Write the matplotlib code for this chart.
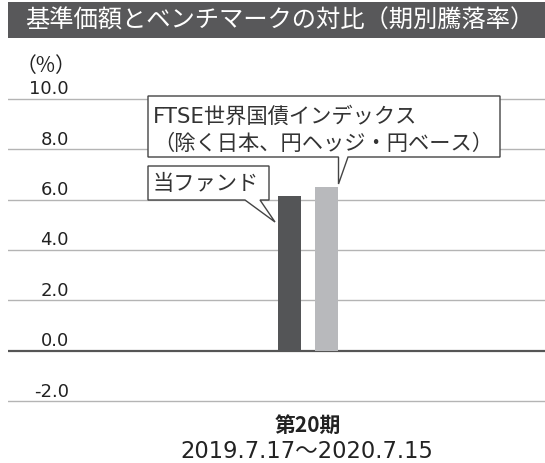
import matplotlib
matplotlib.use("Agg")
import matplotlib.pyplot as plt
from matplotlib.patches import Rectangle, Polygon

plt.rcParams['font.family'] = ['Noto Sans CJK JP', 'DejaVu Sans']
LATIN_FIRST = ['DejaVu Sans', 'Noto Sans CJK JP']

# データ
title = "基準価額とベンチマークの対比（期別騰落率）"
series_names = ["当ファンド", "FTSE世界国債インデックス\n（除く日本、円ヘッジ・円ベース）"]
values = [6.15, 6.5]
period_label = "第20期"
period_range = "2019.7.17～2020.7.15"
yticks = [-2.0, 0.0, 2.0, 4.0, 6.0, 8.0, 10.0]
bar_colors = ["#545557", "#b8b9bc"]

W, H = 545, 464
fig = plt.figure(figsize=(W / 100, H / 100), dpi=100)


def fx(x):
    return x / W


def fy(y):
    return 1 - y / H


# タイトルバー
fig.patches.append(Rectangle((fx(8), fy(39)), fx(537), 36 / H, transform=fig.transFigure,
                             facecolor="#58585a", edgecolor="none"))
fig.text(fx(25), fy(21), title, color="white", fontsize=17.5, va="center", ha="left")
fig.text(fx(46), fy(66), "（%）", color="#222222", fontsize=15, va="center", ha="center")

# 軸 (0 が y=351.7px, 2ポイントごとに 50.4px)
ppu = 25.2
ylo, yhi = -2.3, 10.3
bottom_px = 351.7 - ylo * ppu
top_px = 351.7 - yhi * ppu
ax = fig.add_axes([fx(8), fy(bottom_px), fx(537), (bottom_px - top_px) / H])
ax.set_ylim(ylo, yhi)
ax.set_xlim(-3.0, 2.37)
for s in ax.spines.values():
    s.set_visible(False)
ax.set_xticks([])
ax.set_yticks([])

for v in yticks:
    if v == 0:
        ax.axhline(v, color="#555555", lw=1.6, zorder=1)
    else:
        ax.axhline(v, color="#b4b4b4", lw=1.0, zorder=1)
    ax.annotate(f"{v:.1f}", xy=((69 - 8) / 537, v), xycoords=("axes fraction", "data"),
                xytext=(0, 4), textcoords="offset points", ha="right", va="baseline",
                fontsize=13, color="#222222", family="DejaVu Sans")

offsets = [-0.186, 0.186]
for off, val, c in zip(offsets, values, bar_colors):
    ax.bar(off, val, width=0.235, color=c, zorder=2)


# 吹き出し
def callout(pts, box_text_xy, text):
    poly = Polygon([(fx(x), fy(y)) for x, y in pts], closed=True, transform=fig.transFigure,
                   facecolor="white", edgecolor="#444444", lw=1.0, zorder=5)
    fig.patches.append(poly)
    fig.text(fx(box_text_xy[0]), fy(box_text_xy[1]), text, fontsize=15.3, color="#333333",
             ha="left", va="center", linespacing=1.4, zorder=6, family=LATIN_FIRST)


callout([(148, 167), (269, 167), (269, 201), (260, 201), (275, 223), (245, 201), (148, 201)],
        (153, 184), series_names[0])
callout([(148, 97), (500, 97), (500, 158), (348, 158), (338.5, 185), (338.5, 158), (148, 158)],
        (153, 130), series_names[1])

# x ラベル
fig.text(fx(308), fy(425), period_label, fontsize=15, fontweight="bold", ha="center",
         va="center", color="#222222")
fig.text(fx(307), fy(452), period_range, fontsize=16.3, ha="center", va="center",
         color="#222222", family=LATIN_FIRST)

fig.savefig("out.png", dpi=100)
